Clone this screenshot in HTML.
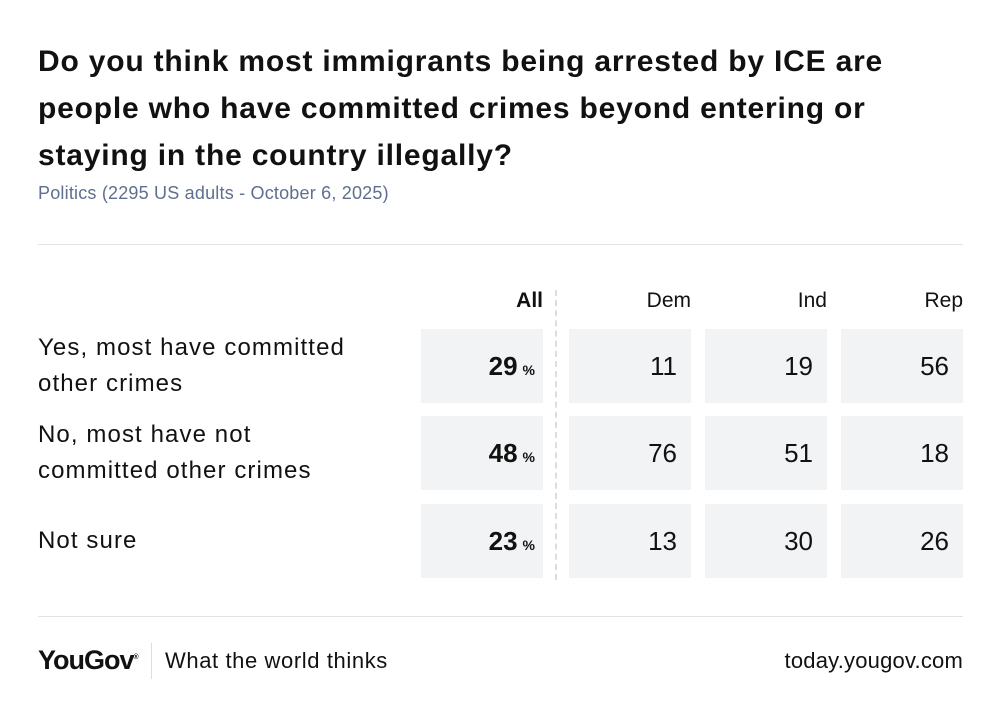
<!DOCTYPE html>
<html><head><meta charset="utf-8"><style>
body{margin:0;width:1000px;height:716px;background:#fff;font-family:"Liberation Sans",sans-serif;color:#111;position:relative;overflow:hidden}
.a{position:absolute}
h1{position:absolute;left:38px;top:38px;margin:0;font-size:30px;line-height:47px;font-weight:bold;letter-spacing:0.8px;width:960px;white-space:nowrap}
.sub{left:38px;top:183px;font-size:18px;color:#5f6f8f;letter-spacing:0.2px}
.hr{left:38px;width:925px;height:1px;background:#e2e2e2}
.cell{position:absolute;background:#f2f3f5;height:74px;width:122px;box-sizing:border-box;text-align:right;padding-right:14px;line-height:74px;font-size:26px}
.hd{position:absolute;top:289px;font-size:21px;text-align:right;width:122px;box-sizing:border-box}
.lab{position:absolute;left:38px;font-size:24px;line-height:36px;letter-spacing:1.1px}
</style></head><body>
<h1>Do you think most immigrants being arrested by ICE are<br>people who have committed crimes beyond entering or<br>staying in the country illegally?</h1>
<div class="a sub">Politics (2295 US adults - October 6, 2025)</div>
<div class="a hr" style="top:244px"></div>
<div class="a" style="left:555px;top:290px;height:290px;border-left:2px dashed #ddd"></div>
<div id="tbl"></div>
<div class="a hr" style="top:616px"></div>
<div class="a" style="left:38px;top:645px;font-size:27px;font-weight:bold;letter-spacing:-1px">YouGov<sup style="font-size:7px">®</sup></div>
<div class="a" style="left:151px;top:643px;width:1px;height:36px;background:#ddd"></div>
<div class="a" style="left:165px;top:648px;font-size:22px;letter-spacing:0.6px">What the world thinks</div>
<div class="a" style="right:37px;top:648px;font-size:22px;letter-spacing:0.2px">today.yougov.com</div>
<script>
const columns=["All","Dem","Ind","Rep"];
const rowLabels=["Yes, most have committed<br>other crimes","No, most have not<br>committed other crimes","Not sure"];
const allValues=[29,48,23];
const demValues=[11,76,13];
const indValues=[19,51,30];
const repValues=[56,18,26];
const series=[allValues,demValues,indValues,repValues];
const colX=[421,569,705,841];
const rowY=[329,416,504];
const t=document.getElementById('tbl');
columns.forEach((c,i)=>{
 const h=document.createElement('div');h.className='hd';
 h.style.left=colX[i]+'px';
 if(i==0){h.style.fontWeight='bold';}
 h.textContent=c;
 
 
 t.appendChild(h);
});
rowLabels.forEach((l,r)=>{
 const d=document.createElement('div');d.className='lab';
 d.style.top=(rowY[r]+(l.includes('<br>')?1:19))+'px';
 d.innerHTML=l;
 
 
 t.appendChild(d);
 series.forEach((s,i)=>{
  const c=document.createElement('div');c.className='cell';
  c.style.left=colX[i]+'px';c.style.top=rowY[r]+'px';
  if(i==0){c.style.paddingRight='8px';c.innerHTML='<b style="font-size:26px">'+s[r]+'</b><b style="font-size:14px;margin-left:5px">%</b>';}
  else c.textContent=s[r];
  
  
  t.appendChild(c);
 });
});
</script>
</body></html>
